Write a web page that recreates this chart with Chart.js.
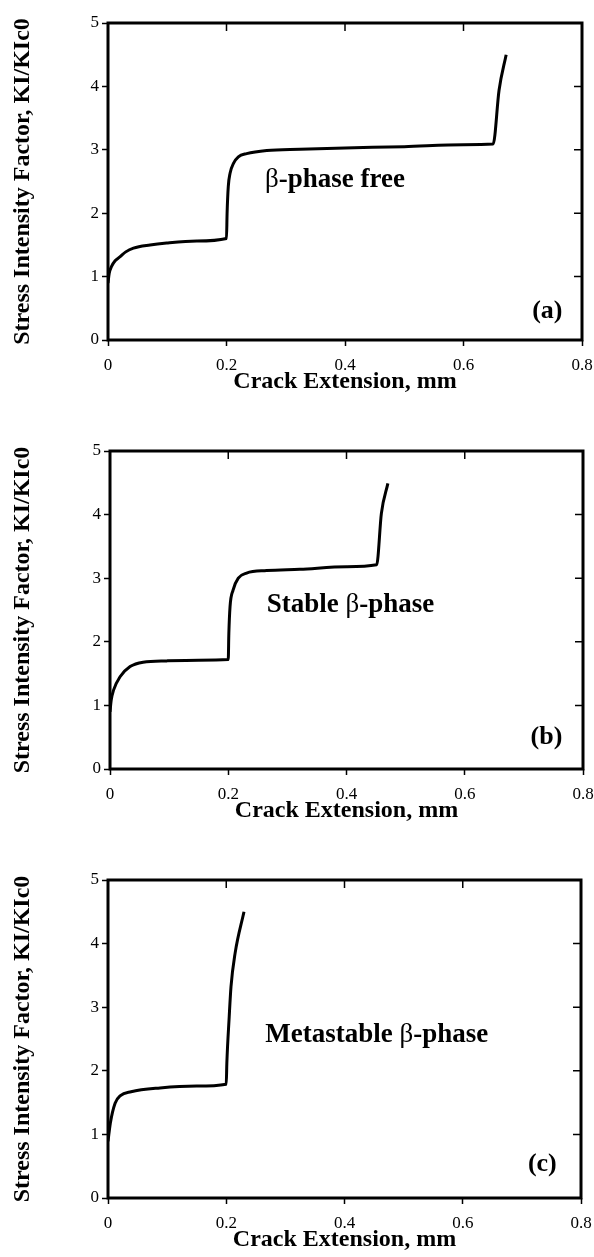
<!DOCTYPE html>
<html>
<head>
<meta charset="utf-8">
<script src="https://cdn.jsdelivr.net/npm/chart.js@4.4.0/dist/chart.umd.min.js"></script>
<style>
  html, body { margin: 0; padding: 0; background: #fff; overflow: hidden; }
  body { width: 594px; height: 1257px; position: relative; }
  canvas { position: absolute; left: 0; }
</style>
</head>
<body>
<canvas id="chart-a" width="594" height="400" style="top:0px"></canvas>
<canvas id="chart-b" width="594" height="401" style="top:428px"></canvas>
<canvas id="chart-c" width="594" height="401" style="top:857px"></canvas>
<script>
// crack extension (mm) vs KI/KIc0
const extA = [0, 0.002, 0.006, 0.012, 0.02, 0.03, 0.043, 0.071, 0.099, 0.15, 0.2, 0.201, 0.203, 0.206, 0.212, 0.22, 0.234, 0.268, 0.324, 0.4, 0.5, 0.6, 0.65, 0.66, 0.672];
const kA   = [0.9, 1.05, 1.16, 1.25, 1.31, 1.39, 1.45, 1.50, 1.53, 1.56, 1.60, 2.0, 2.42, 2.63, 2.79, 2.89, 2.94, 2.99, 3.01, 3.03, 3.05, 3.08, 3.09, 3.94, 4.5];

const extB = [0, 0.002, 0.006, 0.017, 0.034, 0.056, 0.096, 0.15, 0.2, 0.201, 0.203, 0.208, 0.217, 0.231, 0.265, 0.321, 0.4, 0.451, 0.459, 0.47];
const kB   = [0.9, 1.08, 1.24, 1.45, 1.61, 1.68, 1.70, 1.71, 1.72, 2.13, 2.55, 2.81, 3.0, 3.08, 3.12, 3.14, 3.18, 3.21, 4.02, 4.49];

const extC = [0, 0.004, 0.012, 0.021, 0.039, 0.088, 0.15, 0.2, 0.201, 0.205, 0.208, 0.215, 0.23];
const kC   = [0.89, 1.18, 1.49, 1.61, 1.67, 1.73, 1.76, 1.79, 2.12, 2.85, 3.32, 3.85, 4.5];

const xTitle = 'Crack Extension, mm';
const yTitle = 'Stress Intensity Factor, KI/KIc0';

const serif = '"Liberation Serif", "Times New Roman", serif';
const tickFont = { family: serif, size: 17 };
const titleFont = { family: serif, size: 24, weight: 'bold', lineHeight: 1.2 };

// box round the plot, inward ticks on top/right, note and panel letter
const frameAndText = {
    id: 'frameAndText',
    afterDraw(chart, args, opts) {
        const ctx = chart.ctx;
        const a = chart.chartArea;
        const xs = chart.scales.x;
        const ys = chart.scales.y;
        ctx.save();
        ctx.strokeStyle = '#000';
        ctx.lineWidth = 3;
        ctx.strokeRect(a.left, a.top, a.right - a.left, a.bottom - a.top);

        ctx.lineWidth = 1.5;
        ctx.beginPath();
        xs.ticks.forEach(t => {
            if (t.value <= xs.min || t.value >= xs.max) return;
            const px = xs.getPixelForValue(t.value);
            ctx.moveTo(px, a.top);
            ctx.lineTo(px, a.top + 8);
        });
        ys.ticks.forEach(t => {
            if (t.value <= ys.min || t.value >= ys.max) return;
            const py = ys.getPixelForValue(t.value);
            ctx.moveTo(a.right, py);
            ctx.lineTo(a.right - 8, py);
        });
        ctx.stroke();

        ctx.fillStyle = '#000';
        ctx.textBaseline = 'alphabetic';
        ctx.textAlign = 'left';
        const parts = opts.note.split('β');
        let x = xs.getPixelForValue(opts.noteX);
        const y = ys.getPixelForValue(opts.noteY);
        const bold = 'bold 27px ' + serif;
        ctx.font = bold;
        ctx.fillText(parts[0], x, y);
        x += ctx.measureText(parts[0]).width;
        ctx.font = '27px ' + serif;
        ctx.fillText('β', x, y);
        x += ctx.measureText('β').width;
        ctx.font = bold;
        ctx.fillText(parts[1], x, y);

        ctx.font = 'bold 26px ' + serif;
        ctx.textAlign = 'right';
        ctx.fillText(opts.tag, xs.getPixelForValue(opts.tagX), ys.getPixelForValue(opts.tagY));
        ctx.restore();
    }
};

function makeChart(id, ext, k, cfg) {
    const points = ext.map((x, i) => ({ x: x, y: k[i] }));
    return new Chart(document.getElementById(id), {
        type: 'line',
        data: {
            datasets: [{
                data: points,
                borderColor: '#000',
                borderWidth: 3,
                pointRadius: 0,
                fill: false,
                cubicInterpolationMode: 'monotone'
            }]
        },
        options: {
            responsive: false,
            animation: false,
            layout: { padding: { top: 23, right: cfg.right, left: 0, bottom: 0 } },
            plugins: {
                legend: { display: false },
                tooltip: { enabled: false },
                frameAndText: cfg.text
            },
            scales: {
                x: {
                    type: 'linear',
                    min: 0,
                    max: 0.8,
                    afterFit: s => { s.height = 60; s.paddingLeft = 0; s.paddingRight = 0; },
                    ticks: {
                        stepSize: 0.2,
                        padding: 9,
                        color: '#000',
                        font: tickFont,
                        maxRotation: 0,
                        callback: v => v === 0 ? '0' : String(+v.toFixed(1))
                    },
                    grid: { drawOnChartArea: false, tickLength: 6, tickWidth: 1.5, tickColor: '#000' },
                    border: { display: false },
                    title: { display: true, text: xTitle, color: '#000', font: titleFont, padding: { top: 0, bottom: 4 } }
                },
                y: {
                    min: 0,
                    max: 5,
                    afterFit: s => { s.width = cfg.left; s.paddingTop = 0; s.paddingBottom = 0; },
                    ticks: { stepSize: 1, padding: 3, color: '#000', font: tickFont },
                    grid: { drawOnChartArea: false, tickLength: 6, tickWidth: 1.5, tickColor: '#000' },
                    border: { display: false },
                    title: { display: true, text: yTitle, color: '#000', font: titleFont, padding: { top: 8, bottom: 0 } }
                }
            }
        },
        plugins: [frameAndText]
    });
}

makeChart('chart-a', extA, kA, {
    left: 108, right: 12,
    text: { note: 'β-phase free', noteX: 0.265, noteY: 2.41, tag: '(a)', tagX: 0.767, tagY: 0.35 }
});
makeChart('chart-b', extB, kB, {
    left: 110, right: 11,
    text: { note: 'Stable β-phase', noteX: 0.265, noteY: 2.47, tag: '(b)', tagX: 0.765, tagY: 0.39 }
});
makeChart('chart-c', extC, kC, {
    left: 108, right: 13,
    text: { note: 'Metastable β-phase', noteX: 0.266, noteY: 2.46, tag: '(c)', tagX: 0.759, tagY: 0.43 }
});
</script>
</body>
</html>
